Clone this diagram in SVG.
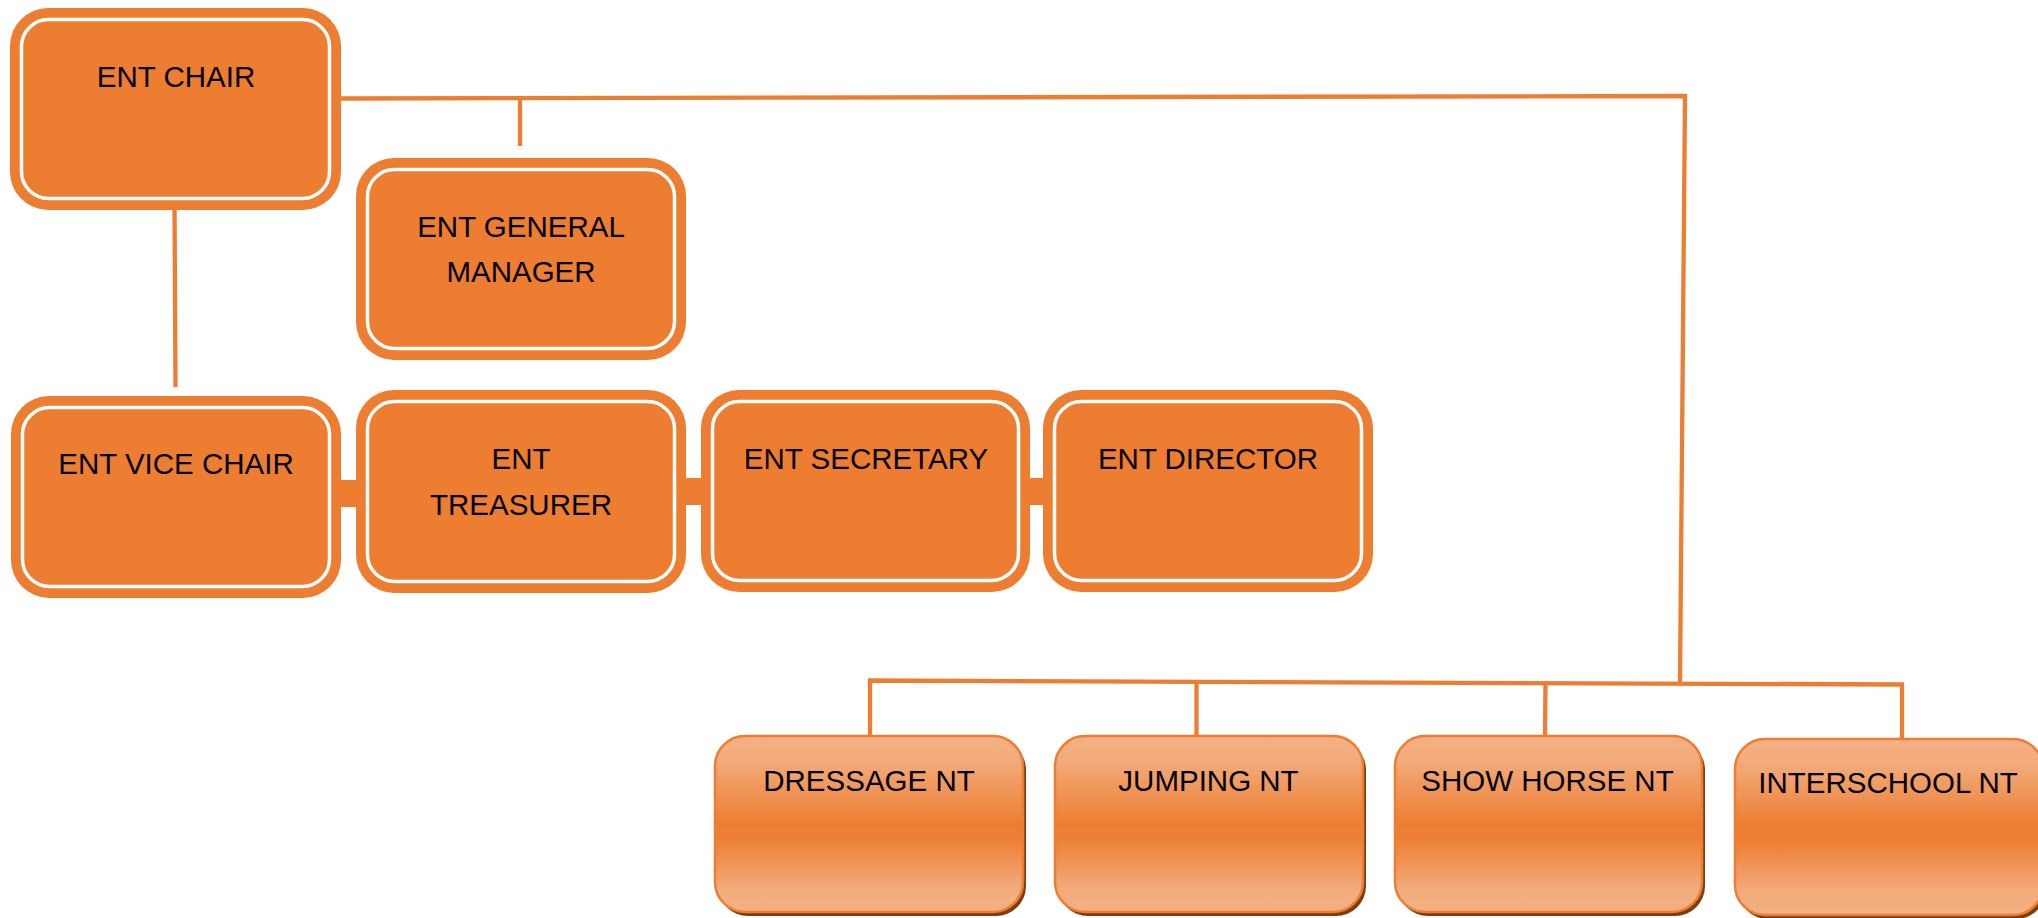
<svg xmlns="http://www.w3.org/2000/svg" width="2038" height="918" viewBox="0 0 2038 918">
<style>
.outer{fill:#ED7D31}
.ring{fill:none;stroke:#FFFFFF;stroke-width:3.5}
.conn{fill:none;stroke:#ED7D31;stroke-width:4.3;stroke-linejoin:miter}
.bar{fill:#ED7D31}
.lbl{font-family:"Liberation Sans",Arial,sans-serif;font-size:29.5px;fill:#000;text-anchor:middle}
.shadow{fill:#7E3E10}
.grad{fill:url(#g);stroke:#ED7D31;stroke-width:2.5}
</style>
<defs>
<linearGradient id="g" x1="0" y1="0" x2="0" y2="1">
<stop offset="0" stop-color="#F4B184"/>
<stop offset="0.14" stop-color="#F2AB7B"/>
<stop offset="0.5" stop-color="#ED7D31"/>
<stop offset="0.58" stop-color="#ED7F34"/>
<stop offset="0.86" stop-color="#F2AA7A"/>
<stop offset="1" stop-color="#F4B184"/>
</linearGradient>
</defs>
<rect width="2038" height="918" fill="#FFFFFF"/>
<g id="connectors">
<polyline class="conn" points="341,98.5 1685,96 1680,682"/>
<line class="conn" x1="520" y1="98" x2="520" y2="146"/>
<line class="conn" x1="174.5" y1="200" x2="175.5" y2="387"/>
<polyline class="conn" points="870,738 870,680.5 1902,684.5 1902,739"/>
<line class="conn" x1="1196.5" y1="681" x2="1196.5" y2="739"/>
<line class="conn" x1="1545.5" y1="682" x2="1545" y2="739"/>
<rect class="bar" x="338" y="480" width="21" height="27"/>
<rect class="bar" x="683" y="478" width="21" height="27"/>
<rect class="bar" x="1027" y="478" width="19" height="27"/>
</g>
<g id="ent-chair">
<rect class="outer" x="10" y="8" width="331" height="202" rx="38"/>
<rect class="ring" x="21.5" y="19.5" width="308" height="179" rx="27"/>
<text class="lbl" x="176" y="87">ENT CHAIR</text>
</g>
<g id="ent-general-manager">
<rect class="outer" x="356" y="158" width="330" height="202" rx="38"/>
<rect class="ring" x="367.5" y="169.5" width="307" height="179" rx="27"/>
<text class="lbl" x="521" y="237">ENT GENERAL</text>
<text class="lbl" x="521" y="282">MANAGER</text>
</g>
<g id="ent-vice-chair">
<rect class="outer" x="11" y="396" width="330" height="202" rx="38"/>
<rect class="ring" x="22.5" y="407.5" width="307" height="179" rx="27"/>
<text class="lbl" x="176" y="474">ENT VICE CHAIR</text>
</g>
<g id="ent-treasurer">
<rect class="outer" x="356" y="390" width="330" height="203" rx="38"/>
<rect class="ring" x="367.5" y="401.5" width="307" height="180" rx="27"/>
<text class="lbl" x="521" y="469">ENT</text>
<text class="lbl" x="521" y="515">TREASURER</text>
</g>
<g id="ent-secretary">
<rect class="outer" x="701" y="390" width="329" height="202" rx="38"/>
<rect class="ring" x="712.5" y="401.5" width="306" height="179" rx="27"/>
<text class="lbl" x="866" y="469">ENT SECRETARY</text>
</g>
<g id="ent-director">
<rect class="outer" x="1043" y="390" width="330" height="202" rx="38"/>
<rect class="ring" x="1054.5" y="401.5" width="307" height="179" rx="27"/>
<text class="lbl" x="1208" y="469">ENT DIRECTOR</text>
</g>
<g id="dressage-nt">
<rect class="shadow" x="718" y="740" width="308" height="176" rx="30"/>
<rect class="grad" x="715" y="736" width="308" height="176" rx="30"/>
<text class="lbl" x="869" y="791">DRESSAGE NT</text>
</g>
<g id="jumping-nt">
<rect class="shadow" x="1058" y="740" width="308" height="176" rx="30"/>
<rect class="grad" x="1055" y="736" width="308" height="176" rx="30"/>
<text class="lbl" x="1208.5" y="791">JUMPING NT</text>
</g>
<g id="show-horse-nt">
<rect class="shadow" x="1398" y="740" width="307" height="176" rx="30"/>
<rect class="grad" x="1395" y="736" width="307" height="176" rx="30"/>
<text class="lbl" x="1547.5" y="791">SHOW HORSE NT</text>
</g>
<g id="interschool-nt">
<rect class="shadow" x="1738" y="743" width="308" height="176" rx="30"/>
<rect class="grad" x="1735" y="739" width="308" height="176" rx="30"/>
<text class="lbl" x="1888" y="793">INTERSCHOOL NT</text>
</g>
</svg>
